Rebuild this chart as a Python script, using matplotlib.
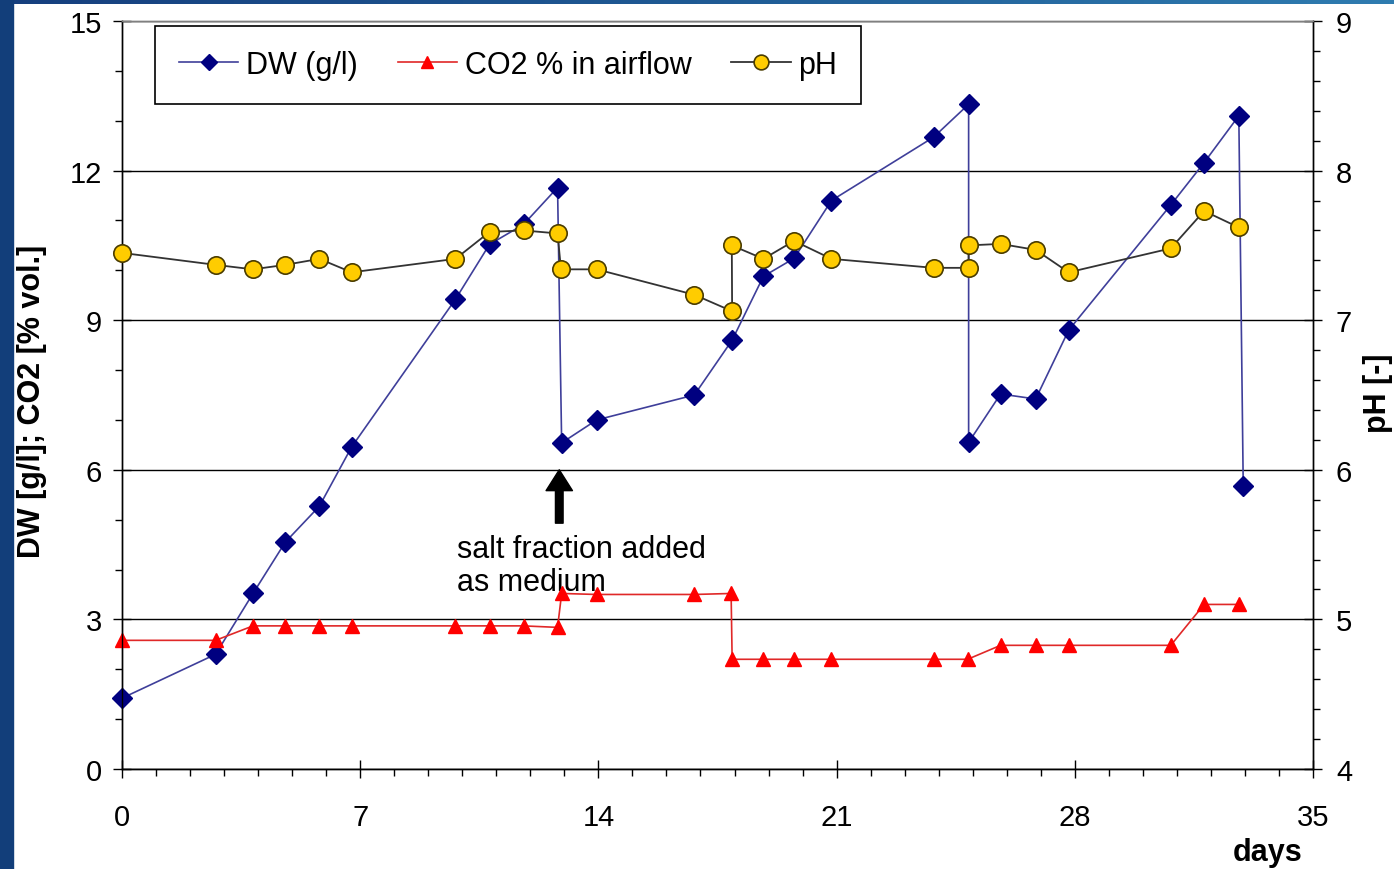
import numpy as np
import matplotlib
matplotlib.use("Agg")
import matplotlib.pyplot as plt
from matplotlib.ticker import MultipleLocator

plt.rcParams['font.family'] = ['Liberation Sans', 'DejaVu Sans']

# ── cultivation data (days since inoculation) ─────────────────────
DAYS_DW = [0, 2.75, 3.85, 4.8, 5.8, 6.75, 9.8, 10.8, 11.8, 12.8, 12.92, 13.95,
           16.82, 17.93, 18.85, 19.75, 20.85, 23.85, 24.88, 24.88, 25.82, 26.85,
           27.82, 30.82, 31.8, 32.82, 32.95]
DW = [1.42, 2.30, 3.52, 4.55, 5.27, 6.46, 9.42, 10.52, 10.92, 11.66, 6.54, 7.00,
      7.50, 8.60, 9.88, 10.24, 11.40, 12.67, 13.33, 6.55, 7.52, 7.42,
      8.80, 11.31, 12.16, 13.10, 5.67]

DAYS_CO2 = [0, 2.75, 3.85, 4.8, 5.8, 6.75, 9.8, 10.8, 11.8, 12.8, 12.92, 13.95,
            16.82, 17.9, 17.93, 18.85, 19.75, 20.85, 23.85, 24.85, 25.82, 26.85,
            27.82, 30.82, 31.8, 32.82]
CO2 = [2.58, 2.58, 2.87, 2.87, 2.87, 2.87, 2.87, 2.87, 2.87, 2.84, 3.52, 3.50,
       3.50, 3.52, 2.20, 2.20, 2.20, 2.20, 2.20, 2.20, 2.48, 2.48,
       2.48, 2.48, 3.30, 3.30]

DAYS_PH = [0, 2.75, 3.85, 4.8, 5.8, 6.75, 9.8, 10.8, 11.8, 12.8, 12.9, 13.95,
           16.82, 17.93, 17.92, 18.85, 19.75, 20.85, 23.85, 24.88, 24.88, 25.82,
           26.85, 27.82, 30.82, 31.8, 32.82]
PH = [7.45, 7.37, 7.34, 7.37, 7.41, 7.32, 7.41, 7.59, 7.60, 7.58, 7.34, 7.34,
      7.17, 7.06, 7.50, 7.41, 7.53, 7.41, 7.35, 7.35, 7.50, 7.51,
      7.47, 7.32, 7.48, 7.73, 7.62]

FS = 22
TICK_FS = 21

fig = plt.figure(figsize=(13.94, 8.70), dpi=100)
fig.patch.set_facecolor('white')

# slide frame: dark blue bar on the left, gradient strip along the top
fig.patches.append(plt.Rectangle((0, 0), 13 / 1394, 1, transform=fig.transFigure,
                                 color='#123e7a', zorder=0))
bar = fig.add_axes([0, 1 - 5 / 870, 1, 5 / 870])
bar.imshow(np.linspace(0, 1, 256)[None, :], aspect='auto',
           cmap=matplotlib.colors.LinearSegmentedColormap.from_list(
               'strip', ['#163f7e', '#1f5a94', '#2f7cb0']))
bar.set_axis_off()

ax = fig.add_axes([122 / 1394, 1 - 770 / 870, (1313 - 122) / 1394, (770 - 22) / 870])
ax2 = ax.twinx()

l_dw, = ax.plot(DAYS_DW, DW, color='#3f3f9a', lw=1.2, marker='D', ms=10,
                mfc='#000080', mec='#000080', clip_on=False, zorder=3,
                label='DW (g/l)')
l_co2, = ax.plot(DAYS_CO2, CO2, color='#e02828', lw=1.2, marker='^', ms=10.5,
                 mfc='#ff0000', mec='#ff0000', clip_on=False, zorder=4,
                 label='CO2 % in airflow')
l_ph, = ax2.plot(DAYS_PH, PH, color='#333333', lw=1.3, marker='o', ms=12.5,
                 mfc='#ffcc00', mec='#4a3c00', mew=1.2, clip_on=False, zorder=3,
                 label='pH')

ax.set_xlim(0, 35)
ax.set_ylim(0, 15)
ax2.set_ylim(4, 9)

ax.xaxis.set_major_locator(MultipleLocator(7))
ax.xaxis.set_minor_locator(MultipleLocator(1))
ax.yaxis.set_major_locator(MultipleLocator(3))
ax.yaxis.set_minor_locator(MultipleLocator(1))
ax2.yaxis.set_major_locator(MultipleLocator(1))
ax2.yaxis.set_minor_locator(MultipleLocator(0.2))

ax.grid(True, axis='y', color='black', lw=1.0)
ax.set_axisbelow(True)

for a in (ax, ax2):
    a.tick_params(which='major', direction='inout', length=13, width=1.0,
                  labelsize=TICK_FS)
    a.tick_params(which='minor', direction='out', length=5, width=1.0)
    for s in a.spines.values():
        s.set_linewidth(1.0)
    a.spines['top'].set_color('#808080')
ax.tick_params(axis='x', pad=18)
ax.tick_params(axis='y', pad=8)
ax2.tick_params(axis='y', pad=10)

# annotation: medium change
ax.annotate('', xy=(12.85, 6.0), xytext=(12.85, 4.93),
            arrowprops=dict(arrowstyle='simple,head_length=1.5,head_width=1.9,tail_width=0.55',
                            fc='black', ec='black', shrinkA=0, shrinkB=0,
                            mutation_scale=10))
ax.text(9.84, 4.72, 'salt fraction added\nas medium', fontsize=FS, va='top',
        ha='left', linespacing=1.15, zorder=2)

leg = ax2.legend([l_dw, l_co2, l_ph], ['DW (g/l)', 'CO2 % in airflow', 'pH'],
                 loc='upper left', bbox_to_anchor=(0.0277, 0.993), borderaxespad=0,
                 ncol=3, fontsize=FS, frameon=True, fancybox=False,
                 edgecolor='black', framealpha=1, handlelength=1.95,
                 handletextpad=0.25, columnspacing=1.3, borderpad=0.78,
                 markerscale=0.85)
leg.get_frame().set_linewidth(1.2)

fig.text(32 / 1394, 1 - 401 / 870, 'DW [g/l]; CO2 [% vol.]', rotation=90,
         ha='center', va='center', fontsize=FS, fontweight='bold')
fig.text(1393 / 1394, 1 - 393 / 870, 'pH [-]', rotation=90, ha='right',
         va='center', fontsize=FS, fontweight='bold')
fig.text(1268 / 1394, 1 - 853 / 870, 'days', ha='center', va='center',
         fontsize=FS, fontweight='bold')

fig.savefig('out.png', dpi=100)
